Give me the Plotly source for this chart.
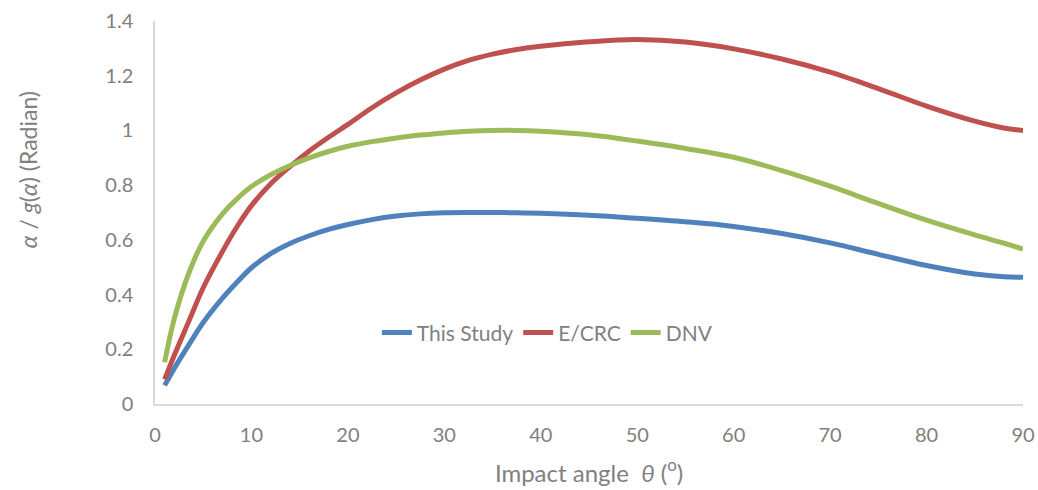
import plotly.graph_objects as go

# Impact angle (degrees)
theta = [1, 2, 3.5, 5, 7, 8.5, 10, 12, 14, 16, 18, 20, 22.5, 25, 27.5, 30, 32.5, 35, 37.5, 40,
         45, 50, 55, 60, 65, 70, 75, 80, 85, 88, 90]

# alpha / g(alpha) in radians for each method
this_study = [0.068, 0.130, 0.216, 0.298, 0.387, 0.445, 0.498, 0.550, 0.587, 0.615, 0.638, 0.656,
              0.674, 0.687, 0.695, 0.699, 0.700, 0.700, 0.699, 0.697,
              0.690, 0.679, 0.666, 0.649, 0.623, 0.589, 0.547, 0.506, 0.475, 0.465, 0.463]
e_crc = [0.09, 0.178, 0.302, 0.425, 0.558, 0.648, 0.725, 0.805, 0.868, 0.925, 0.975, 1.022,
         1.083, 1.137, 1.184, 1.224, 1.256, 1.279, 1.296, 1.308,
         1.324, 1.332, 1.323, 1.298, 1.261, 1.213, 1.153, 1.089, 1.034, 1.009, 1.0]
dnv = [0.153, 0.312, 0.478, 0.595, 0.695, 0.750, 0.795, 0.838, 0.872, 0.900, 0.923, 0.942,
       0.959, 0.972, 0.983, 0.991, 0.997, 1.000, 1.000, 0.997,
       0.984, 0.961, 0.934, 0.902, 0.853, 0.796, 0.733, 0.672, 0.618, 0.588, 0.566]

series = [
    ("This Study", this_study, "#4F81BD"),
    ("E/CRC", e_crc, "#C0504D"),
    ("DNV", dnv, "#9BBB59"),
]

fig = go.Figure()
for name, vals, color in series:
    fig.add_trace(go.Scatter(
        x=theta, y=vals, name=name, mode="lines",
        line=dict(color=color, width=5, shape="spline", smoothing=1.0),
    ))

FONT = "Lato, 'Open Sans', sans-serif"
GREY = "#808080"
NB = "\u00a0"

fig.update_layout(
    width=1038, height=490,
    margin=dict(l=155, r=15, t=21, b=86),
    paper_bgcolor="white", plot_bgcolor="white",
    showlegend=True,
    legend=dict(
        orientation="h", x=0.452, xanchor="center", y=0.186, yanchor="middle",
        font=dict(family=FONT, size=21, color=GREY),
        bgcolor="rgba(0,0,0,0)", tracegroupgap=0,
    ),
    xaxis=dict(
        range=[0, 90], tickvals=[0, 10, 20, 30, 40, 50, 60, 70, 80, 90],
        showgrid=False, zeroline=False, showline=True, linecolor="#D9D9D9", linewidth=1.5,
        ticks="", tickfont=dict(family=FONT, size=20, color=GREY), ticklabelstandoff=12,
        automargin=False,
        title=dict(text=f"Impact angle{NB}{NB}<i>θ</i>{NB}(<sup>o</sup>)",
                   font=dict(family=FONT, size=24, color=GREY), standoff=20),
    ),
    yaxis=dict(
        range=[0, 1.4], tickvals=[0, 0.2, 0.4, 0.6, 0.8, 1.0, 1.2, 1.4],
        ticktext=["0", "0.2", "0.4", "0.6", "0.8", "1", "1.2", "1.4"],
        showgrid=False, zeroline=False, showline=True, linecolor="#D9D9D9", linewidth=1.5,
        ticks="", tickfont=dict(family=FONT, size=20, color=GREY), ticklabelstandoff=16,
        automargin=False,
    ),
    annotations=[dict(
        text=f"<i>α</i>{NB}/{NB}<i>g</i>(<i>α</i>){NB}(Radian)",
        xref="paper", yref="paper", x=-0.146, y=0.611,
        xanchor="center", yanchor="middle", textangle=-90, showarrow=False,
        font=dict(family=FONT, size=23, color=GREY),
    )],
)

fig.write_html("out.html")
